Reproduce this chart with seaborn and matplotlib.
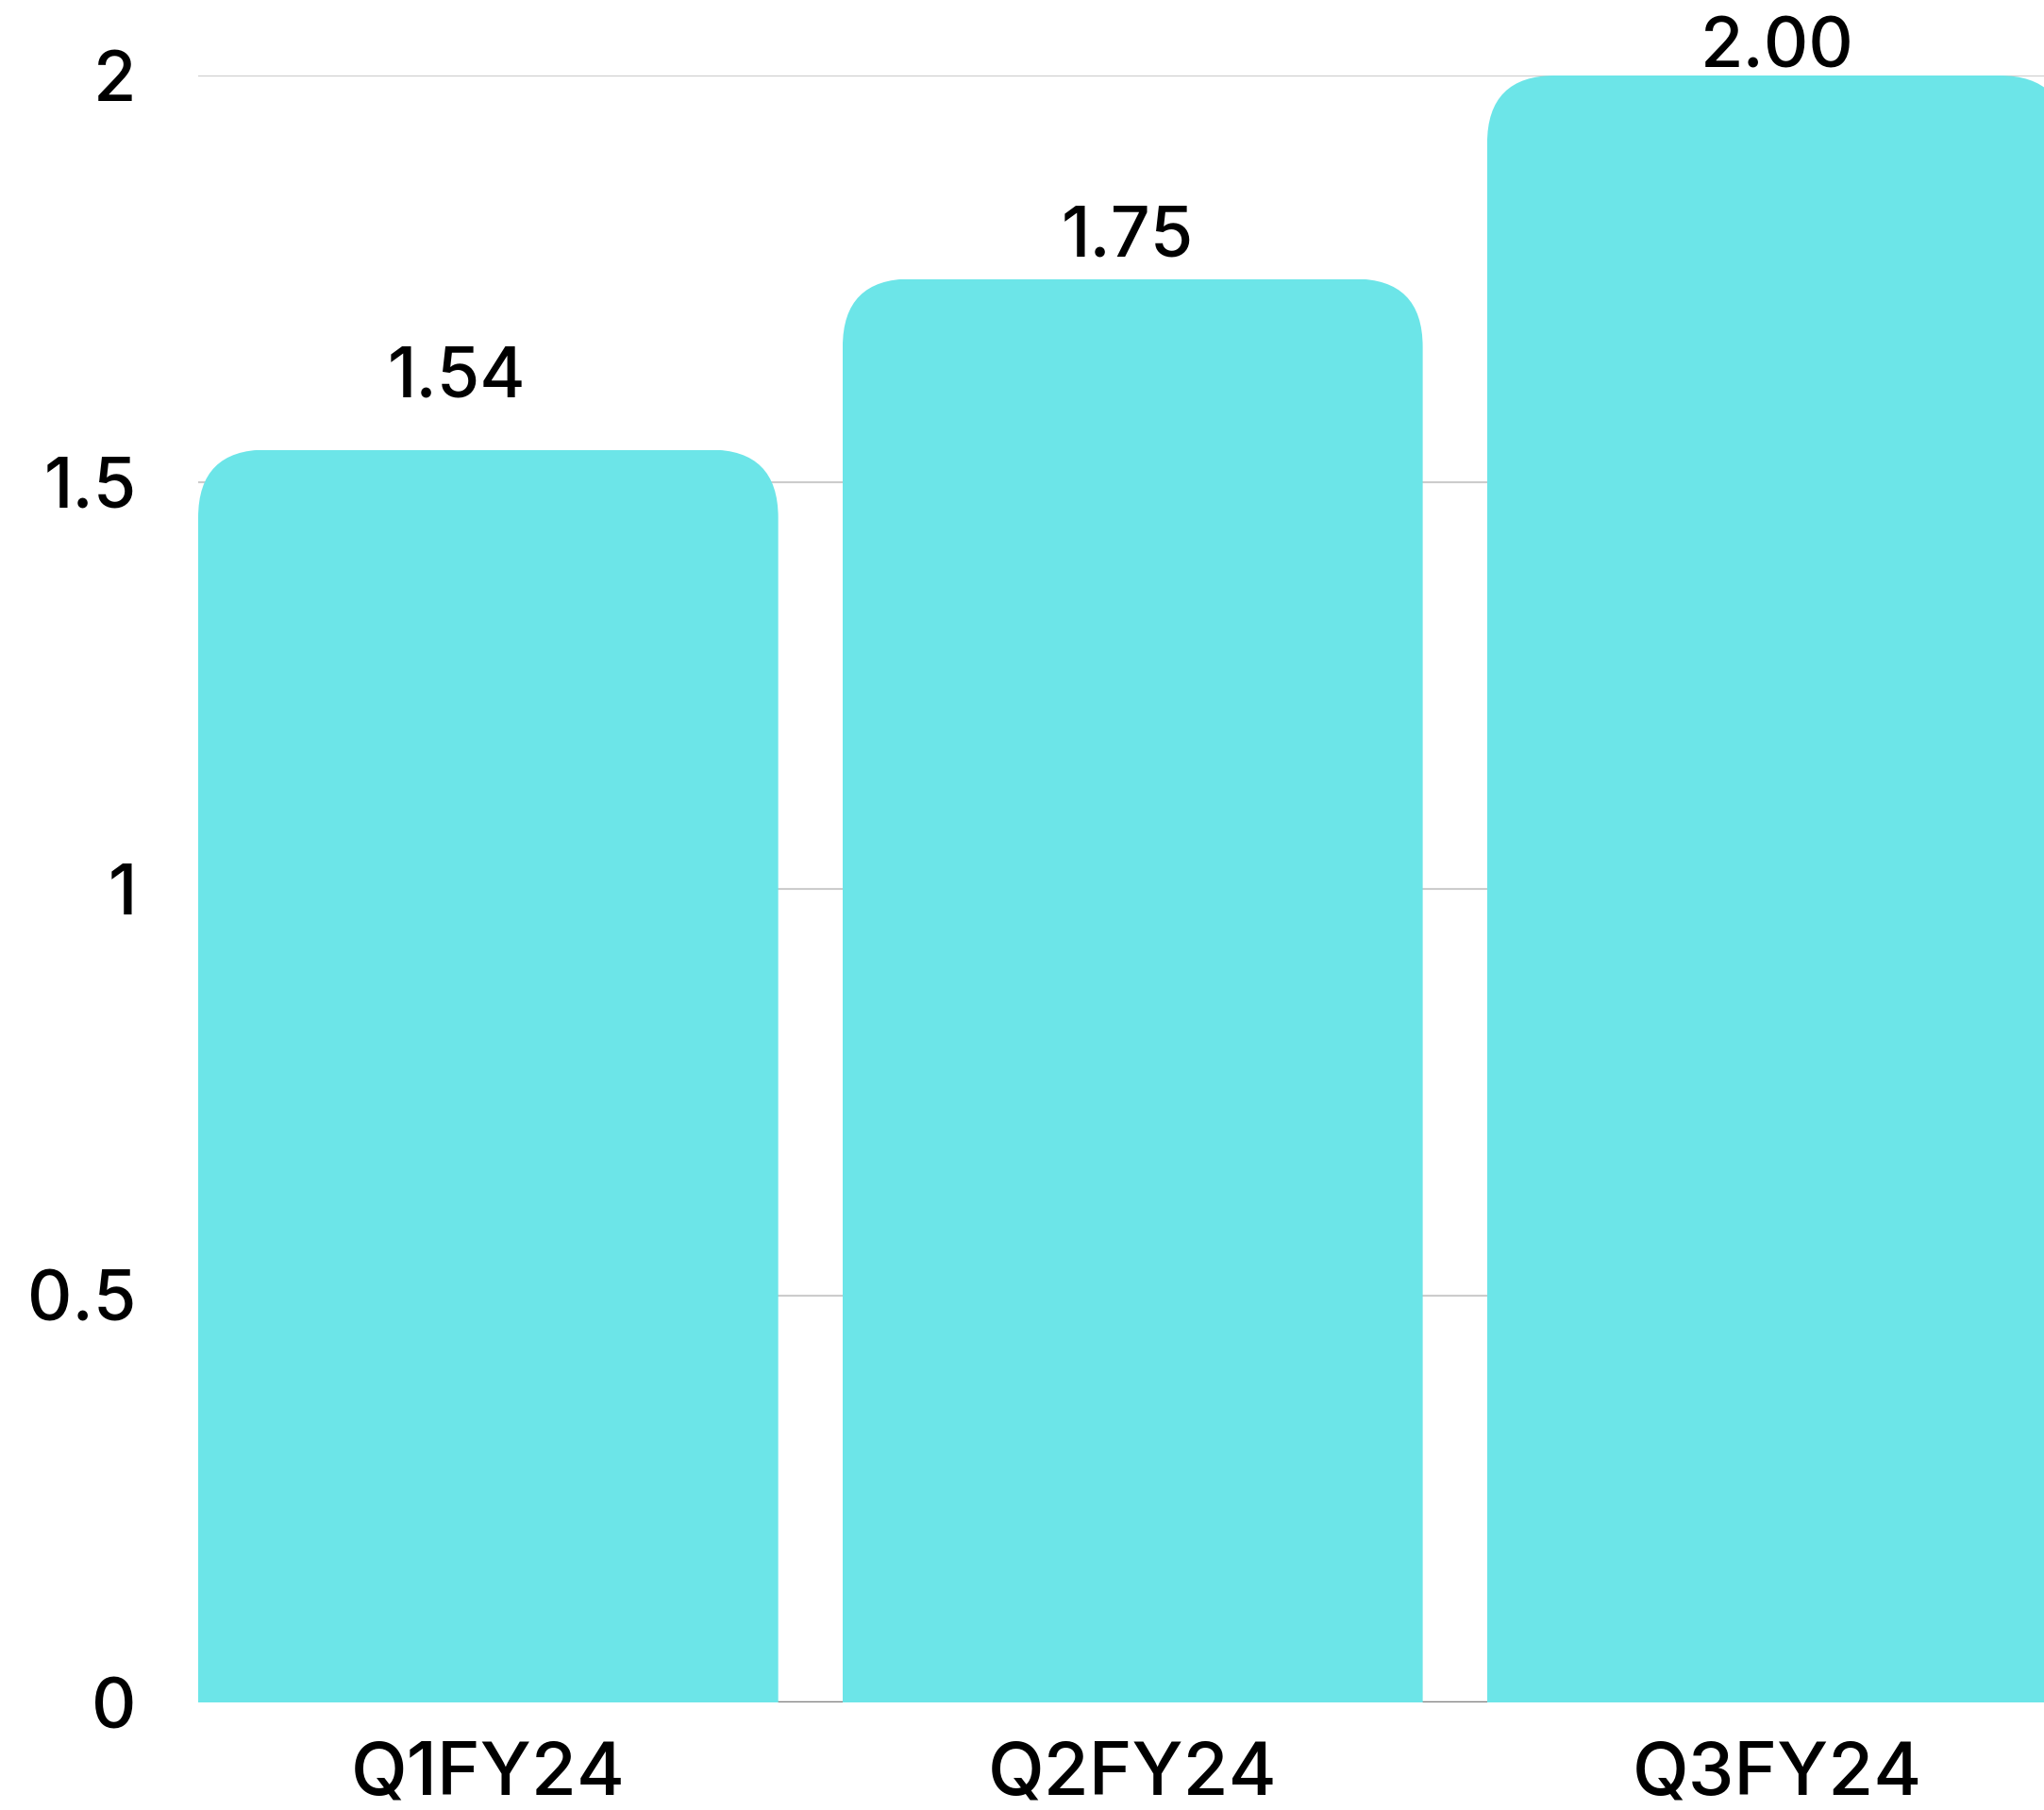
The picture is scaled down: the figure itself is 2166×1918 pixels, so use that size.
import seaborn as sns
import matplotlib.pyplot as plt
from matplotlib.patches import FancyBboxPatch
import pandas as pd

quarters = ["Q1FY24", "Q2FY24", "Q3FY24"]
values = [1.54, 1.75, 2.00]
value_labels = ["1.54", "1.75", "2.00"]
yticks = [0, 0.5, 1, 1.5, 2]
ytick_labels = ["0", "0.5", "1", "1.5", "2"]

df = pd.DataFrame({"quarter": quarters, "value": values})

sns.set_style("white")
plt.rcParams['font.family'] = ['Inter', 'DejaVu Sans']
plt.rcParams['font.weight'] = 'medium'
plt.rcParams['text.color'] = 'black'
plt.rcParams['xtick.color'] = 'black'
plt.rcParams['ytick.color'] = 'black'

fig = plt.figure(figsize=(21.66, 19.18), dpi=100)
ax = fig.add_axes([210 / 2166, 1 - 1804 / 1918, 1 - 210 / 2166, (1804 - 80) / 1918])

sns.barplot(data=df, x="quarter", y="value", color="#6CE5E8", saturation=1,
            width=0.9, linewidth=0, ax=ax, zorder=3)

ax.set_xlim(-0.45, 2.414)
ax.set_ylim(0, 2)
ax.set_yticks(yticks)
ax.set_yticklabels(ytick_labels)
ax.set_xlabel("")
ax.set_ylabel("")
ax.tick_params(axis="y", length=0, pad=47, labelsize=53, labelcolor="black")
ax.tick_params(axis="x", length=0, pad=29, labelsize=56, labelcolor="black")
ax.yaxis.grid(True, color="#cccccc", linewidth=1.5)
ax.set_axisbelow(True)
ax.axhline(0, color="#808080", linewidth=2.5, zorder=1)
sns.despine(ax=ax, left=True, bottom=True)

# round the top corners of the bars
rx = 72 / 683
ry = 72 / 862
for bar in ax.patches:
    x, w, h = bar.get_x(), bar.get_width(), bar.get_height()
    clip = FancyBboxPatch((x, -1), w, h + 1,
                          boxstyle=f"round,pad=0,rounding_size={rx}",
                          mutation_aspect=ry / rx, transform=ax.transData)
    bar.set_clip_path(clip)

# value labels above bars (offset of the baseline in points)
offsets = [(-24, 40), (-4, 17), (0, 6)]
for bar, lab, off in zip(ax.patches, value_labels, offsets):
    ax.annotate(lab, (bar.get_x() + bar.get_width() / 2, bar.get_height()),
                xytext=off, textcoords="offset points",
                ha="center", va="baseline", fontsize=53,
                color="black", annotation_clip=False)

fig.savefig("out.png", dpi=100)
